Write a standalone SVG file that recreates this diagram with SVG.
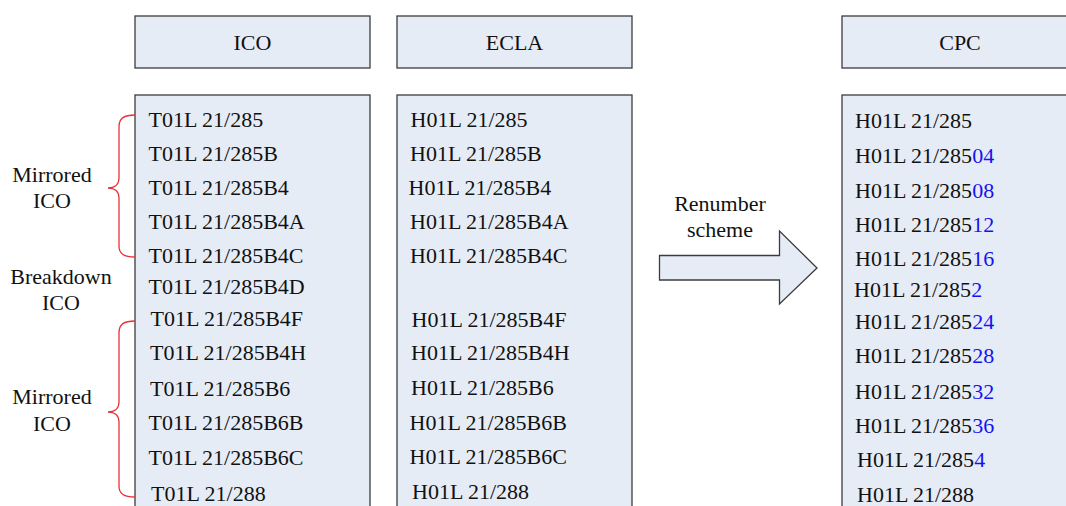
<svg xmlns="http://www.w3.org/2000/svg" width="1066" height="506" viewBox="0 0 1066 506">
  <style>
    .box { fill: #e6ecf6; stroke: #3c3c3c; stroke-width: 1.3; }
    .t { font-family: "Liberation Serif", "Times New Roman", serif; font-size: 22px; fill: #111; }
    .c { text-anchor: middle; }
    .new { fill: #1414f0; }
    .brace { fill: none; stroke: #e8323c; stroke-width: 1.3; }
    .arrow { fill: #e6ecf6; stroke: #3c3c3c; stroke-width: 1.3; }
  </style>
  <rect width="1066" height="506" fill="#ffffff"/>

  <!-- ICO column -->
  <g id="ico-header">
    <rect class="box" x="135" y="16" width="235" height="52"/>
    <text class="t c" x="252.5" y="49.5">ICO</text>
  </g>
  <g id="ico-list">
    <rect class="box" x="135" y="95" width="235" height="430"/>
    <text class="t" x="148.5" y="127">T01L 21/285</text>
    <text class="t" x="148.5" y="161">T01L 21/285B</text>
    <text class="t" x="148.5" y="195">T01L 21/285B4</text>
    <text class="t" x="148.5" y="229">T01L 21/285B4A</text>
    <text class="t" x="148.5" y="263">T01L 21/285B4C</text>
    <text class="t" x="148.5" y="294">T01L 21/285B4D</text>
    <text class="t" x="150.5" y="326">T01L 21/285B4F</text>
    <text class="t" x="150" y="360">T01L 21/285B4H</text>
    <text class="t" x="150" y="396">T01L 21/285B6</text>
    <text class="t" x="148.5" y="430">T01L 21/285B6B</text>
    <text class="t" x="148.5" y="465">T01L 21/285B6C</text>
    <text class="t" x="151" y="501">T01L 21/288</text>
  </g>

  <!-- ECLA column -->
  <g id="ecla-header">
    <rect class="box" x="397" y="16" width="235" height="52"/>
    <text class="t c" x="514.5" y="49.5">ECLA</text>
  </g>
  <g id="ecla-list">
    <rect class="box" x="397" y="95" width="235" height="430"/>
    <text class="t" x="410.5" y="127">H01L 21/285</text>
    <text class="t" x="410" y="161">H01L 21/285B</text>
    <text class="t" x="408.5" y="195">H01L 21/285B4</text>
    <text class="t" x="410" y="229">H01L 21/285B4A</text>
    <text class="t" x="410" y="263">H01L 21/285B4C</text>
    <text class="t" x="411.5" y="326.5">H01L 21/285B4F</text>
    <text class="t" x="411" y="360">H01L 21/285B4H</text>
    <text class="t" x="411" y="395">H01L 21/285B6</text>
    <text class="t" x="409.5" y="429.5">H01L 21/285B6B</text>
    <text class="t" x="409.5" y="464">H01L 21/285B6C</text>
    <text class="t" x="412" y="499">H01L 21/288</text>
  </g>

  <!-- CPC column (runs past the right edge) -->
  <g id="cpc-header">
    <rect class="box" x="842" y="16" width="240" height="52"/>
    <text class="t c" x="960" y="49.5">CPC</text>
  </g>
  <g id="cpc-list">
    <rect class="box" x="842" y="95" width="240" height="430"/>
    <text class="t" x="855" y="127.5">H01L 21/285</text>
    <text class="t" x="855" y="163">H01L 21/285<tspan class="new">04</tspan></text>
    <text class="t" x="855" y="198">H01L 21/285<tspan class="new">08</tspan></text>
    <text class="t" x="855" y="232">H01L 21/285<tspan class="new">12</tspan></text>
    <text class="t" x="855" y="265.5">H01L 21/285<tspan class="new">16</tspan></text>
    <text class="t" x="854" y="297">H01L 21/285<tspan class="new">2</tspan></text>
    <text class="t" x="855" y="329">H01L 21/285<tspan class="new">24</tspan></text>
    <text class="t" x="855" y="363">H01L 21/285<tspan class="new">28</tspan></text>
    <text class="t" x="855" y="399">H01L 21/285<tspan class="new">32</tspan></text>
    <text class="t" x="855" y="433">H01L 21/285<tspan class="new">36</tspan></text>
    <text class="t" x="857" y="466.5">H01L 21/285<tspan class="new">4</tspan></text>
    <text class="t" x="857" y="501.5">H01L 21/288</text>
  </g>

  <!-- Renumbering arrow -->
  <g id="renumber">
    <polygon class="arrow" points="659.5,255.5 779.5,255.5 779.5,231 817,268 779.5,304 779.5,280 659.5,280"/>
    <text class="t c" x="720" y="210.5">Renumber</text>
    <text class="t c" x="720" y="236.5">scheme</text>
  </g>

  <!-- Group labels with braces -->
  <g id="mirrored-top">
    <path class="brace" d="M135,115 C124,115 119,118 119,127 L119,178 C119,185 114,188 108,188 C114,188 119,191 119,198 L119,246 C119,254 124,257 135,257"/>
    <text class="t c" x="52" y="182">Mirrored</text>
    <text class="t c" x="52" y="208">ICO</text>
  </g>
  <g id="breakdown">
    <text class="t c" x="61" y="283.5">Breakdown</text>
    <text class="t c" x="61" y="310">ICO</text>
  </g>
  <g id="mirrored-bottom">
    <path class="brace" d="M135,321 C124,321 119,324 119,333 L119,402 C119,409 114,412 108,412 C114,412 119,415 119,422 L119,486 C119,494 124,497 135,497"/>
    <text class="t c" x="52" y="404">Mirrored</text>
    <text class="t c" x="52" y="431">ICO</text>
  </g>
</svg>
